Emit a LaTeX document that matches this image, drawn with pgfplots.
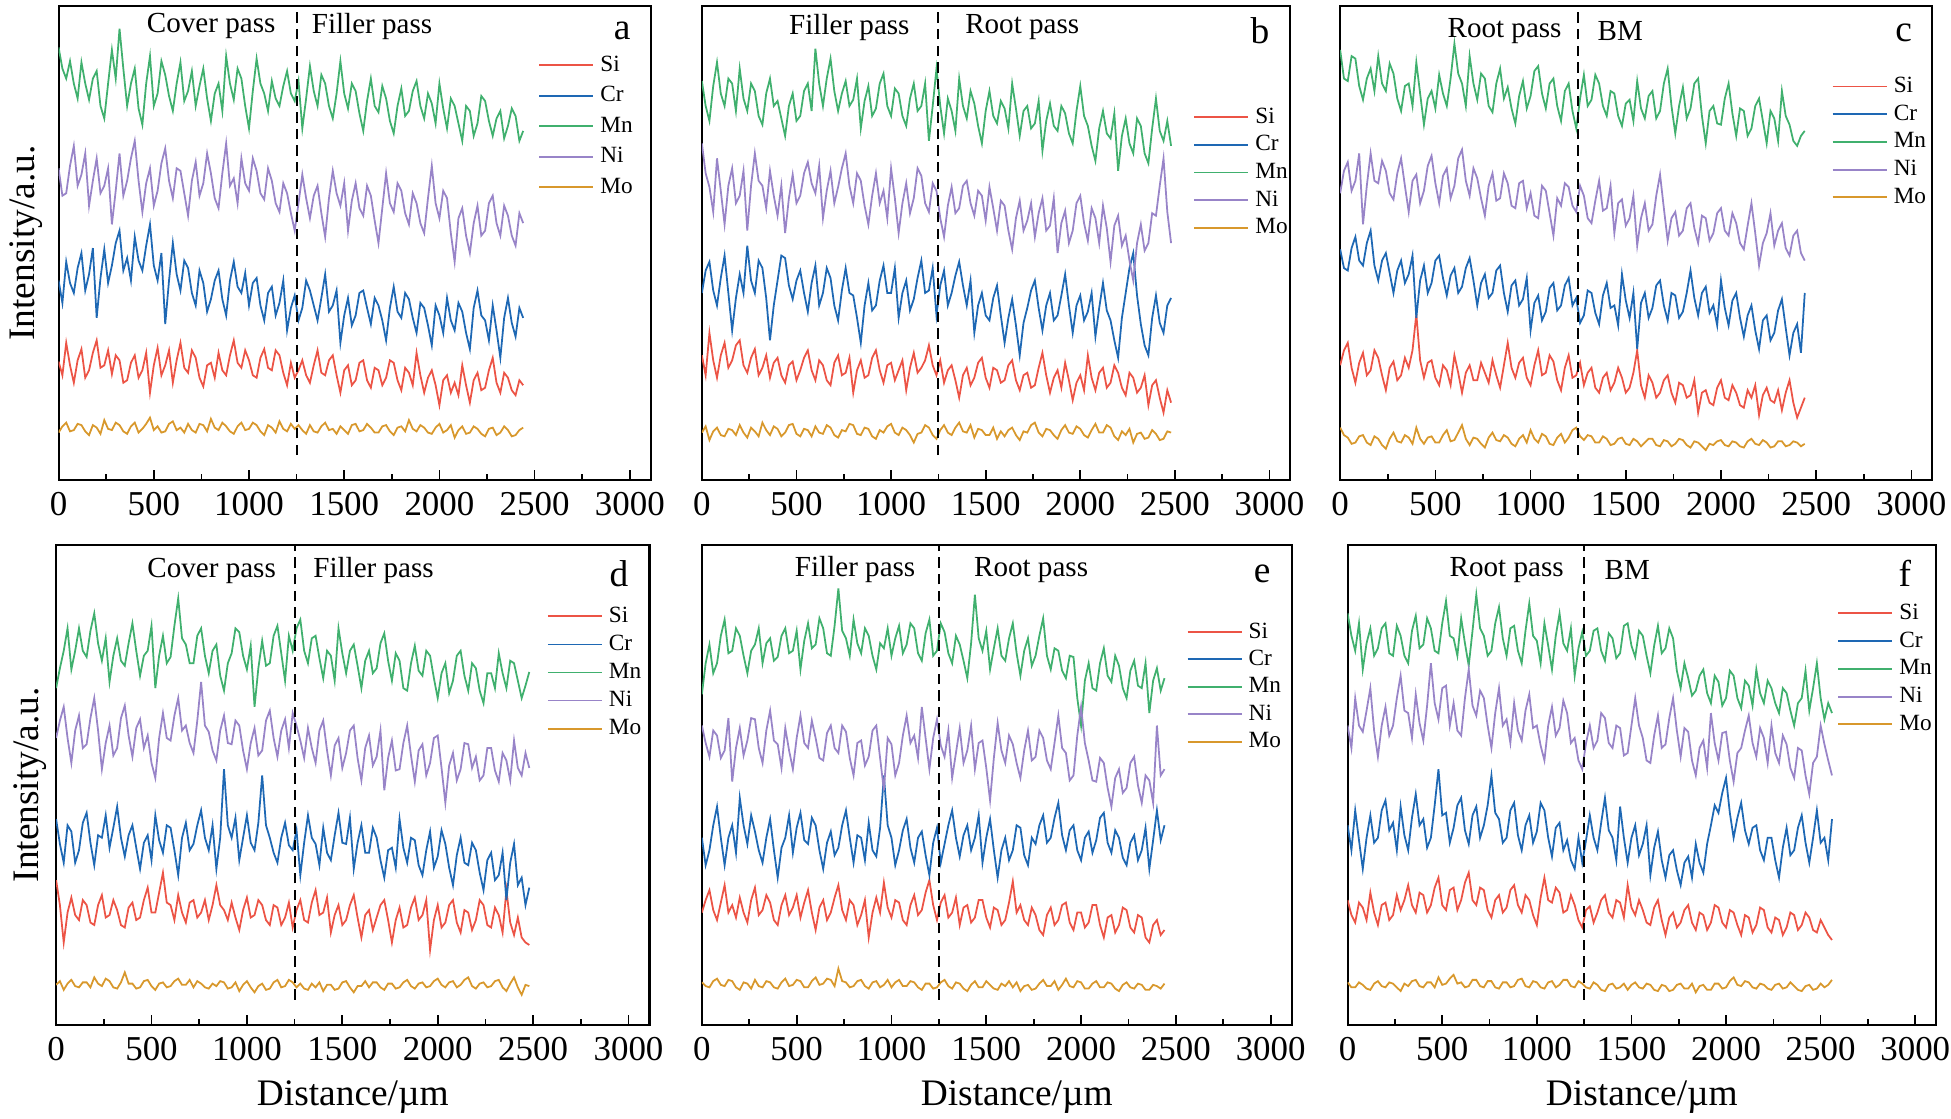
\documentclass[border=0pt]{standalone}
\usepackage{fontspec}
\setmainfont{Liberation Serif}
\usepackage{pgfplots}
\usepackage{pgfplotstable}
\pgfplotsset{compat=1.18}

\definecolor{cSi}{RGB}{236,84,70}
\definecolor{cCr}{RGB}{30,104,180}
\definecolor{cMn}{RGB}{64,176,110}
\definecolor{cNi}{RGB}{152,132,200}
\definecolor{cMo}{RGB}{216,152,44}

\pgfplotstableread{
x si cr mn ni mo
0 95 160 347 250 38
20 84 142 330 228 43
40 110 175 322 230 46
60 92 158 336 252 39
80 78 150 318 268 40
100 96 170 306 236 45
120 105 182 335 245 44
140 82 152 318 262 39
160 88 165 305 220 36
180 102 186 322 240 44
200 112 130 328 258 42
220 90 162 300 230 37
240 92 185 290 236 48
260 104 158 318 250 41
280 85 172 345 205 40
300 100 190 322 232 46
320 96 200 362 262 44
340 78 168 330 228 39
360 80 178 300 240 37
380 94 160 318 258 43
400 100 195 330 272 46
420 82 176 298 240 38
440 88 168 285 215 41
460 102 188 318 238 45
480 70 205 340 250 50
500 92 172 300 220 40
520 106 160 310 232 43
540 84 182 336 254 38
560 92 125 325 266 39
580 104 160 308 240 45
600 78 190 296 226 47
620 96 165 318 250 40
640 110 152 335 248 42
660 90 176 304 230 38
680 86 170 312 212 45
700 104 150 328 240 40
720 98 140 300 255 38
740 82 168 316 228 45
760 75 158 330 238 44
780 92 135 306 262 39
800 94 145 288 246 49
820 82 160 310 226 42
840 102 168 318 218 40
860 88 145 296 246 46
880 84 132 340 270 43
900 100 160 318 236 39
920 112 175 305 242 37
940 94 155 330 222 43
960 90 150 322 258 46
980 104 166 300 238 40
1000 96 140 282 232 41
1020 84 158 312 258 46
1040 82 162 338 248 44
1060 98 140 318 230 39
1080 105 128 310 225 36
1100 90 150 296 250 44
1120 88 155 320 240 42
1140 104 132 306 222 38
1160 100 142 300 215 47
1180 86 160 316 238 41
1200 76 120 328 230 39
1220 94 138 310 214 45
1240 82 148 304 200 41
1260 88 128 320 222 44
1280 96 138 282 245 40
1300 84 160 306 226 37
1320 78 152 332 210 44
1340 92 140 312 228 39
1360 104 128 300 236 38
1380 86 146 325 214 43
1400 84 165 318 195 46
1420 96 135 300 226 40
1440 100 140 290 248 41
1460 84 152 310 230 37
1480 70 110 336 220 43
1500 88 132 310 238 40
1520 92 146 298 200 37
1540 76 124 318 224 44
1560 80 132 312 238 45
1580 94 150 294 218 39
1600 96 152 280 212 40
1620 80 138 304 236 45
1640 74 125 322 228 42
1660 90 146 300 208 38
1680 88 140 295 190 38
1700 76 128 316 218 43
1720 82 112 306 246 44
1740 96 138 288 222 39
1760 94 155 278 215 36
1780 80 135 300 238 42
1800 72 130 314 232 43
1820 90 150 292 214 39
1840 86 145 296 205 48
1860 76 130 312 230 41
1880 102 118 320 222 39
1900 84 142 300 206 44
1920 70 138 290 198 42
1940 82 124 310 226 38
1960 88 108 302 252 37
1980 76 140 286 222 42
2000 60 132 318 210 45
2020 80 118 298 232 38
2040 84 146 282 226 40
2060 70 128 306 198 44
2080 78 120 300 175 34
2100 68 142 286 210 40
2120 92 135 272 218 43
2140 76 118 300 196 37
2160 62 105 296 182 38
2180 80 138 276 206 43
2200 86 152 286 220 41
2220 72 132 308 196 37
2240 74 128 304 200 35
2260 88 112 288 222 41
2280 98 140 276 228 42
2300 78 120 290 206 36
2320 70 98 296 196 38
2340 86 130 274 220 43
2360 82 146 284 212 40
2380 72 126 298 196 35
2400 68 115 292 188 36
2420 80 138 272 214 40
2440 76 130 280 206 42
}\dataA

\pgfplotstableread{
x si cr mn ni mo
0 100 150 320 270 38
20 84 168 300 246 43
40 118 175 288 235 32
60 96 152 316 215 39
80 82 140 335 258 42
100 100 162 310 232 36
120 110 180 300 205 35
140 90 150 322 236 41
160 96 120 318 250 40
180 108 146 296 222 36
200 112 165 330 228 44
220 92 150 306 248 38
240 86 188 296 200 34
260 98 160 318 236 42
280 105 150 312 262 39
300 84 176 292 240 35
320 90 170 285 236 46
340 100 146 310 218 40
360 82 112 322 248 36
380 94 140 300 228 43
400 98 160 304 212 41
420 84 180 290 236 35
440 78 178 276 198 38
460 92 156 300 226 44
480 95 145 310 245 45
500 80 160 288 222 37
520 88 168 292 228 35
540 98 150 312 246 41
560 104 135 318 255 40
580 88 158 296 238 35
600 80 172 346 230 43
620 96 140 318 252 38
640 92 150 300 210 37
660 80 170 322 232 44
680 76 162 338 248 42
700 94 140 312 222 36
720 100 128 296 235 34
740 84 152 310 250 40
760 86 170 320 262 39
780 98 150 300 236 45
800 70 148 305 222 44
820 88 130 322 246 37
840 96 110 282 240 36
860 82 140 304 220 42
880 84 158 316 205 41
900 98 136 292 228 35
920 104 140 298 246 33
940 88 160 318 222 40
960 78 172 326 232 38
980 92 150 300 210 43
1000 94 150 292 250 45
1020 80 170 314 226 38
1040 88 130 310 198 36
1060 96 150 292 222 42
1080 72 160 284 238 40
1100 90 136 306 214 36
1120 102 145 318 226 30
1140 86 162 296 250 37
1160 90 176 300 244 38
1180 96 150 318 222 44
1200 108 152 272 215 42
1220 92 170 300 238 36
1240 84 132 330 232 33
1260 96 156 300 210 40
1280 78 168 278 195 44
1300 88 140 306 220 38
1320 92 150 296 235 36
1340 80 164 280 214 42
1360 66 175 322 218 46
1380 84 156 300 236 39
1400 90 140 290 240 38
1420 76 160 312 222 44
1440 82 118 302 212 34
1460 94 140 284 232 41
1480 98 150 270 228 40
1500 82 132 296 208 36
1520 74 128 312 235 36
1540 90 146 292 218 42
1560 88 156 286 200 33
1580 78 132 304 224 39
1600 80 110 298 220 35
1620 92 130 282 200 40
1640 96 145 318 185 42
1660 80 124 298 210 36
1680 72 100 276 224 32
1700 84 126 296 200 39
1720 86 138 300 208 38
1740 74 152 282 222 44
1760 76 160 286 195 46
1780 90 138 304 214 38
1800 102 120 264 226 35
1820 84 140 288 200 41
1840 70 150 302 204 40
1860 82 128 284 226 36
1880 88 132 280 182 33
1900 74 148 300 206 40
1920 94 165 294 216 44
1940 80 140 278 190 38
1960 64 118 270 200 37
1980 78 140 296 222 43
2000 84 148 316 228 41
2020 72 128 292 206 36
2040 100 135 284 192 34
2060 82 150 268 218 40
2080 72 115 256 210 45
2100 86 138 282 190 38
2120 90 158 296 220 38
2140 74 136 278 202 44
2160 78 128 274 175 42
2180 92 112 294 204 35
2200 86 98 248 212 32
2220 74 130 276 188 39
2240 68 150 290 196 36
2260 86 170 270 176 41
2280 82 182 262 160 30
2300 70 148 290 190 37
2320 74 125 284 205 38
2340 84 108 262 184 33
2360 60 100 254 190 34
2380 76 130 282 214 40
2400 80 148 306 212 37
2420 66 126 280 236 32
2440 54 118 272 258 33
2460 72 140 288 215 39
2480 62 146 268 190 38
}\dataB

\pgfplotstableread{
x si cr mn ni mo
0 92 185 345 230 42
20 104 170 322 248 36
40 110 168 320 255 34
60 90 186 340 232 29
80 78 195 338 240 30
100 94 176 316 262 35
120 102 172 305 205 36
140 84 190 322 236 30
160 88 200 330 262 28
180 104 172 312 240 35
200 98 160 340 238 33
220 84 176 318 256 28
240 72 182 312 248 25
260 90 166 334 230 33
280 95 150 326 225 38
300 80 168 306 246 31
320 84 176 296 258 30
340 98 158 316 236 36
360 90 165 318 215 34
380 104 180 300 240 29
400 133 130 335 245 42
420 96 160 310 222 33
440 82 172 285 232 29
460 94 150 306 252 34
480 96 158 312 260 35
500 82 176 298 238 30
520 76 180 325 222 30
540 92 162 310 244 36
560 88 148 300 250 40
580 76 164 322 226 31
600 100 170 350 236 32
620 86 150 326 258 38
640 70 155 318 265 44
660 86 170 300 240 33
680 92 178 340 228 28
700 80 160 318 250 34
720 80 140 305 242 33
740 94 158 326 226 29
760 86 165 322 212 26
780 78 146 300 236 34
800 96 150 295 246 38
820 84 168 318 224 32
840 74 172 330 226 31
860 92 150 306 246 36
880 110 135 315 238 34
900 90 156 298 220 29
920 82 160 286 218 27
940 94 140 308 238 33
960 98 145 320 240 36
980 82 162 298 218 30
1000 76 120 308 230 40
1020 92 142 328 212 33
1040 104 148 332 210 30
1060 84 128 310 236 37
1080 86 135 298 232 35
1100 100 154 318 214 29
1120 95 158 322 196 28
1140 80 136 300 226 34
1160 72 140 288 220 37
1180 90 156 312 238 30
1200 100 162 318 235 34
1220 82 140 296 220 40
1240 84 146 282 215 42
1260 94 126 306 236 35
1280 76 132 325 228 32
1300 86 152 300 210 36
1320 90 150 305 206 35
1340 74 134 325 224 30
1360 70 125 318 240 30
1380 82 148 300 216 35
1400 86 158 292 218 33
1420 72 138 312 236 28
1440 78 140 310 198 29
1460 90 124 292 222 33
1480 82 165 284 225 34
1500 70 144 302 204 29
1520 74 130 305 210 28
1540 86 150 288 228 33
1560 104 105 320 188 31
1580 76 142 298 210 27
1600 66 150 290 222 30
1620 84 130 308 200 33
1640 78 138 312 205 33
1660 66 156 290 228 28
1680 70 160 296 245 27
1700 80 140 318 218 32
1720 84 128 330 192 31
1740 70 150 300 210 27
1760 62 148 278 215 29
1780 78 130 300 196 33
1800 76 135 315 200 32
1820 66 150 290 218 28
1840 68 168 298 222 26
1860 80 146 318 202 31
1880 54 132 322 190 30
1900 70 150 292 212 27
1920 72 155 270 210 24
1940 62 134 296 192 29
1960 60 140 300 198 28
1980 74 124 286 214 31
2000 80 160 285 218 32
2020 66 138 306 200 28
2040 64 124 318 196 27
2060 76 144 294 214 31
2080 70 150 276 206 30
2100 60 130 298 190 27
2120 58 115 296 185 26
2140 72 132 276 204 31
2160 66 140 282 222 33
2180 76 120 300 198 29
2200 52 105 306 172 28
2220 68 128 288 190 32
2240 74 132 270 198 30
2260 64 112 296 214 26
2280 62 118 290 188 27
2300 72 136 272 200 31
2320 56 145 312 206 31
2340 70 122 292 186 27
2360 80 100 285 180 28
2380 62 118 272 196 31
2400 50 125 268 200 30
2420 58 102 276 182 27
2440 66 150 280 176 29
}\dataC

\pgfplotstableread{
x si cr mn ni mo
0 116 165 270 230 32
20 96 145 286 244 35
40 66 130 300 255 28
60 90 160 318 230 33
80 102 155 285 210 36
100 88 130 300 236 31
120 84 140 318 248 30
140 100 162 300 222 34
160 96 170 295 225 34
180 82 146 316 246 30
200 80 128 330 262 38
220 96 152 306 236 33
240 104 150 292 205 31
260 86 168 310 226 37
280 88 142 275 240 35
300 100 158 296 216 30
320 92 175 310 222 29
340 80 150 292 246 34
360 78 135 288 256 42
380 94 152 306 232 33
400 98 160 322 215 33
420 84 142 300 238 29
440 86 125 280 245 30
460 100 146 296 222 35
480 110 152 300 232 36
500 90 132 320 210 31
520 90 168 270 198 28
540 106 148 296 230 33
560 122 138 312 250 34
580 98 160 290 230 30
600 96 158 295 228 31
620 84 140 320 248 35
640 104 120 342 262 37
660 90 150 310 236 32
680 82 162 305 240 32
700 98 140 290 226 36
720 100 145 290 218 30
740 86 160 312 244 35
760 90 172 318 275 33
780 100 150 296 240 30
800 84 140 282 235 29
820 96 160 300 220 33
840 112 125 305 212 31
860 96 150 280 236 35
880 92 205 268 248 34
900 84 160 290 226 29
920 98 150 298 225 30
940 86 166 318 244 34
960 76 132 315 240 27
980 92 150 296 220 32
1000 102 168 285 205 35
1020 86 146 304 226 30
1040 88 140 255 238 26
1060 100 162 286 216 31
1080 96 200 308 220 33
1100 84 160 288 244 28
1120 80 150 290 252 29
1140 96 138 312 230 34
1160 94 130 320 215 36
1180 80 150 298 236 30
1200 86 162 276 245 31
1220 98 144 312 222 36
1240 78 140 300 250 34
1260 92 156 318 240 30
1280 100 120 325 228 33
1300 84 146 300 214 29
1320 82 168 290 238 28
1340 98 150 310 222 33
1360 108 145 312 210 30
1380 88 128 294 236 34
1400 90 158 278 244 27
1420 102 138 300 220 32
1440 74 132 296 200 32
1460 88 152 276 224 28
1480 96 170 318 230 29
1500 80 146 298 206 34
1520 84 145 282 218 35
1540 96 166 300 236 30
1560 104 125 305 240 26
1580 86 146 288 214 31
1600 70 160 270 196 31
1620 88 138 292 222 35
1640 92 138 300 232 30
1660 76 158 282 208 34
1680 86 150 286 215 34
1700 96 132 306 236 30
1720 100 118 314 188 28
1740 84 140 292 214 33
1760 66 142 276 228 33
1780 84 126 298 204 29
1800 94 165 292 205 30
1820 78 142 270 226 34
1840 80 130 268 240 36
1860 94 150 290 216 31
1880 102 148 304 195 29
1900 84 128 284 220 33
1920 88 120 280 225 34
1940 100 140 300 200 30
1960 60 155 296 210 31
1980 84 126 278 230 35
2000 96 135 262 232 37
2020 78 156 282 206 32
2040 82 145 290 178 30
2060 96 126 266 208 34
2080 100 112 276 218 35
2100 82 136 296 196 30
2120 74 150 300 205 32
2140 92 130 280 226 36
2160 90 128 268 225 38
2180 76 146 290 206 31
2200 84 140 286 215 29
2220 100 122 268 196 33
2240 96 108 258 200 34
2260 80 132 282 222 30
2280 78 138 282 222 31
2300 94 116 270 204 35
2320 88 120 298 195 36
2340 74 138 282 218 30
2360 108 100 270 212 27
2380 82 130 292 196 33
2400 72 145 290 228 38
2420 86 112 276 206 30
2440 70 118 262 200 24
2460 66 96 272 218 32
2480 64 110 283 206 31
}\dataD

\pgfplotstableread{
x si cr mn ni mo
0 90 150 265 240 34
20 100 128 290 226 31
40 108 140 305 215 30
60 92 160 282 236 35
80 84 175 290 232 37
100 98 150 312 214 32
120 112 128 325 220 31
140 90 150 298 246 36
160 96 160 300 195 35
180 86 138 318 222 30
200 102 182 312 238 28
220 90 160 296 216 34
240 82 145 282 228 33
260 100 168 300 246 29
280 110 155 305 245 36
300 88 140 318 222 31
320 92 130 290 210 30
340 104 150 306 236 35
360 98 165 310 252 34
380 84 140 292 228 30
400 80 118 295 225 29
420 96 142 312 206 34
440 104 150 318 238 37
460 88 168 298 220 31
480 94 138 300 205 32
500 104 158 316 230 36
520 86 170 285 248 35
540 98 148 308 226 30
560 108 145 322 222 30
580 90 166 302 244 35
600 76 160 305 230 38
620 94 140 326 214 32
640 100 125 318 212 33
660 84 146 298 234 37
680 90 155 296 240 36
700 102 136 320 222 31
720 112 142 350 218 45
740 92 160 316 240 35
760 84 172 310 235 34
780 100 150 296 214 30
800 96 130 325 200 31
820 80 152 306 226 35
840 88 150 298 228 36
860 100 132 318 208 31
880 70 162 312 215 29
900 90 140 296 236 34
920 102 135 285 240 35
940 90 158 306 214 30
960 114 200 302 188 32
980 94 160 318 230 36
1000 86 150 296 225 30
1020 100 128 310 200 34
1040 98 140 320 210 36
1060 84 156 298 232 31
1080 80 165 305 248 31
1100 96 142 322 226 35
1120 104 130 318 232 34
1140 88 150 298 214 30
1160 92 155 292 255 28
1180 106 136 314 230 33
1200 116 120 325 205 33
1220 96 146 296 230 29
1240 84 158 300 245 30
1260 98 130 322 224 34
1280 104 145 315 215 36
1300 86 160 298 236 31
1320 90 172 290 198 29
1340 102 150 312 218 34
1360 80 135 305 238 33
1380 94 152 292 210 29
1400 96 160 278 220 27
1420 82 140 306 240 32
1440 86 150 345 205 35
1460 100 168 310 226 30
1480 100 130 300 228 30
1500 86 150 316 206 35
1520 78 165 285 180 32
1540 94 140 302 214 29
1560 92 118 318 242 28
1580 80 140 296 220 33
1600 84 150 292 210 31
1620 98 132 310 232 35
1640 115 140 322 225 30
1660 90 160 298 210 34
1680 96 158 280 198 27
1700 84 136 300 220 31
1720 80 128 310 236 32
1740 94 150 288 212 28
1760 88 145 296 215 29
1780 76 160 312 236 33
1800 72 168 326 230 36
1820 88 146 296 212 31
1840 94 150 285 205 31
1860 80 166 302 226 35
1880 84 178 300 248 28
1900 96 152 284 222 32
1920 98 140 278 218 37
1940 82 156 296 196 31
1960 76 160 295 200 30
1980 90 140 262 232 35
2000 90 132 240 255 34
2020 78 150 276 226 29
2040 82 155 290 212 29
2060 96 138 270 196 33
2080 96 148 268 195 35
2100 80 166 290 214 30
2120 70 170 302 210 30
2140 86 146 280 190 34
2160 88 138 275 175 33
2180 74 156 296 198 29
2200 80 150 288 205 27
2220 94 134 270 186 32
2240 92 128 262 190 34
2260 78 146 284 210 30
2280 74 152 292 215 29
2300 88 132 272 192 33
2320 86 140 270 178 32
2340 70 158 290 200 28
2360 66 125 250 196 28
2380 80 148 276 178 32
2400 84 172 286 240 31
2420 72 148 268 200 29
2440 76 160 278 205 33
}\dataE

\pgfplotstableread{
x si cr mn ni mo
0 100 160 330 240 34
20 88 140 312 222 30
40 82 172 300 262 30
60 98 148 322 240 34
80 94 125 285 235 32
100 84 150 306 252 29
120 106 168 318 270 28
140 90 146 296 236 33
160 80 150 302 215 35
180 96 172 318 240 31
200 98 180 322 255 30
220 84 156 298 232 34
240 88 162 296 240 33
260 104 140 320 262 30
280 92 175 312 280 27
300 100 152 296 252 33
320 112 140 290 250 31
340 96 166 316 230 35
360 90 185 328 265 36
380 106 160 302 242 31
400 104 165 305 228 30
420 90 142 326 256 34
440 96 150 318 290 34
460 110 176 300 258 30
480 118 205 298 245 38
500 96 168 322 270 32
520 92 170 340 272 33
540 108 146 312 240 37
560 110 158 310 258 40
580 92 176 296 236 33
600 100 182 326 232 34
620 114 156 306 262 30
640 122 145 288 285 31
660 100 168 316 256 36
680 96 175 345 248 36
700 110 150 318 268 31
720 108 160 312 262 30
740 92 176 296 240 35
760 86 200 300 222 35
780 100 170 322 250 30
800 104 165 335 270 29
820 90 146 310 240 34
840 94 150 296 245 34
860 108 172 318 226 30
880 112 178 320 258 31
900 96 152 300 236 36
920 90 140 290 228 37
940 104 160 316 252 31
960 100 168 338 265 30
980 88 146 312 238 35
1000 80 155 308 240 34
1020 102 178 290 224 30
1040 118 172 322 212 29
1060 100 150 304 240 34
1080 98 135 285 255 35
1100 110 158 312 232 30
1120 106 162 330 238 32
1140 90 140 306 260 36
1160 92 148 300 250 36
1180 104 132 318 226 31
1200 96 125 280 230 30
1220 84 150 302 212 35
1240 78 130 315 205 33
1260 92 148 296 226 30
1280 95 168 300 240 29
1300 82 150 316 222 34
1320 90 140 318 228 32
1340 100 162 300 250 28
1360 104 182 292 246 27
1380 90 156 314 226 32
1400 86 150 310 222 33
1420 100 132 294 240 29
1440 98 175 298 238 30
1460 86 150 320 216 33
1480 112 130 322 218 28
1500 94 150 304 240 32
1520 88 160 295 262 34
1540 100 136 316 240 30
1560 92 145 312 230 29
1580 82 160 296 212 33
1600 80 120 282 210 32
1620 94 142 304 232 28
1640 100 155 320 248 27
1660 84 132 298 222 32
1680 72 118 302 225 31
1700 86 136 318 246 27
1720 90 140 310 262 28
1740 78 124 284 236 32
1760 82 112 270 215 33
1780 92 130 290 238 29
1800 96 135 278 235 29
1820 82 118 264 212 33
1840 76 145 268 200 26
1860 90 130 280 222 31
1880 88 122 285 228 32
1900 76 145 266 206 28
1920 82 160 258 250 28
1940 96 176 280 226 33
1960 94 170 275 212 33
1980 82 186 256 234 29
2000 78 198 262 235 30
2020 92 170 284 212 35
2040 90 150 280 195 38
2060 80 166 262 218 32
2080 72 178 254 222 31
2100 88 156 276 236 35
2120 86 145 272 248 34
2140 74 158 256 226 30
2160 80 160 285 215 29
2180 94 140 266 238 33
2200 92 132 258 230 32
2220 78 150 276 210 29
2240 74 150 270 240 28
2260 86 132 258 218 32
2280 84 118 250 210 33
2300 72 142 270 232 29
2320 78 158 266 225 30
2340 90 136 252 206 34
2360 88 140 240 198 31
2380 76 158 258 222 28
2400 80 168 262 220 27
2420 90 146 284 200 31
2440 86 130 252 185 32
2460 76 150 270 210 28
2480 74 172 290 215 29
2500 84 146 262 240 33
2520 78 150 245 225 30
2540 72 132 258 212 32
2560 68 165 250 200 36
}\dataF

\pgfplotsset{
  panel/.style={
    scale only axis,
    xmin=0, xmax=3110, ymin=0,
    xtick={0,500,1000,1500,2000,2500,3000},
    xticklabels={0,500,1000,1500,2000,2500,3000},
    minor xtick={250,750,1250,1750,2250,2750},
    ytick=\empty,
    tick align=inside, xtick pos=bottom,
    major tick length=4.8pt, minor tick length=3pt,
    tick style={black, line width=0.8pt},
    axis line style={line width=1pt},
    tick label style={font=\fontsize{16.8}{18}\selectfont},
    xticklabel style={yshift=-2.5pt},
    every axis plot/.append style={line width=0.85pt},
    legend style={draw=none, fill=none, font=\fontsize{11.2}{12}\selectfont,
      inner sep=0pt, outer sep=0pt, anchor=north west, row sep=0pt, column sep=3pt,
      nodes={inner sep=0pt}},
    legend cell align=left,
    legend image code/.code={\draw[##1, line width=0.9pt] (0pt,0pt) -- (26pt,0pt);},
  },
  ylab/.style={ylabel={Intensity/a.u.},
    every axis y label/.style={at={(axis description cs:0,0.5)}, xshift=-#1, rotate=90, anchor=center, font=\fontsize{18}{20}\selectfont}},
  xlab/.style={xlabel={Distance/µm},
    every axis x label/.style={at={(axis description cs:#1,0)}, yshift=-34.8pt, anchor=center, font=\fontsize{18}{20}\selectfont}},
}

\newcommand{\plotall}[1]{%
  \addplot[cSi] table[x=x,y=si]{#1};
  \addplot[cCr] table[x=x,y=cr]{#1};
  \addplot[cMn] table[x=x,y=mn]{#1};
  \addplot[cNi] table[x=x,y=ni]{#1};
  \addplot[cMo] table[x=x,y=mo]{#1};
  \legend{Si,Cr,Mn,Ni,Mo}
}
\newcommand{\divider}[1]{%
  \addplot[black, line width=0.9pt, dash pattern=on 5pt off 3pt, forget plot] coordinates {(1250,20) (1250,#1)};
}

\begin{document}
\begin{tikzpicture}
\useasboundingbox (0,0) rectangle (939pt,-538.4pt);

% (a)
\begin{axis}[panel, at={(28.2pt,-231pt)}, anchor=south west, width=285pt, height=228pt, ymax=380,
  legend style={at={(axis description cs:0.81,0.908)}, nodes={minimum height=14.7pt}}, ylab=15.6pt]
\plotall{\dataA}
\divider{380}
\node[anchor=east, inner sep=0pt, font=\fontsize{14}{16}\selectfont] at (axis cs:1141,364) {Cover pass};
\node[anchor=west, inner sep=0pt, font=\fontsize{14}{16}\selectfont] at (axis cs:1328,364) {Filler pass};
\node[inner sep=0pt, font=\fontsize{18}{20}\selectfont] at (axis cs:2960,360) {a};
\end{axis}

% (b)
\begin{axis}[panel, at={(337.8pt,-231pt)}, anchor=south west, width=283.2pt, height=228pt, ymax=380,
  legend style={at={(axis description cs:0.835,0.795)}, nodes={minimum height=13.3pt}}]
\plotall{\dataB}
\divider{380}
\node[anchor=east, inner sep=0pt, font=\fontsize{14}{16}\selectfont] at (axis cs:1100,363) {Filler pass};
\node[anchor=west, inner sep=0pt, font=\fontsize{14}{16}\selectfont] at (axis cs:1390,363) {Root pass};
\node[inner sep=0pt, font=\fontsize{18}{20}\selectfont] at (axis cs:2950,360) {b};
\end{axis}

% (c)
\begin{axis}[panel, at={(645pt,-231pt)}, anchor=south west, width=285pt, height=228pt, ymax=380,
  legend style={at={(axis description cs:0.83,0.86)}, nodes={minimum height=13.35pt}}]
\plotall{\dataC}
\divider{380}
\node[anchor=east, inner sep=0pt, font=\fontsize{14}{16}\selectfont] at (axis cs:1165,360) {Root pass};
\node[anchor=west, inner sep=0pt, font=\fontsize{14}{16}\selectfont] at (axis cs:1350,360) {BM};
\node[inner sep=0pt, font=\fontsize{18}{20}\selectfont] at (axis cs:2960,359) {c};
\end{axis}

% (d)
\begin{axis}[panel, at={(27pt,-493.2pt)}, anchor=south west, width=285.6pt, height=231pt, ymax=385,
  legend style={at={(axis description cs:0.827,0.88)}, nodes={minimum height=13.5pt}}, ylab=12.6pt, xlab=0.5]
\plotall{\dataD}
\divider{385}
\node[anchor=east, inner sep=0pt, font=\fontsize{14}{16}\selectfont] at (axis cs:1154,364) {Cover pass};
\node[anchor=west, inner sep=0pt, font=\fontsize{14}{16}\selectfont] at (axis cs:1346,364) {Filler pass};
\node[inner sep=0pt, font=\fontsize{18}{20}\selectfont] at (axis cs:2950,362) {d};
\end{axis}

% (e)
\begin{axis}[panel, at={(337.8pt,-493.2pt)}, anchor=south west, width=283.8pt, height=231pt, ymax=385,
  legend style={at={(axis description cs:0.822,0.847)}, nodes={minimum height=13.2pt}}, xlab=0.534]
\plotall{\dataE}
\divider{385}
\node[anchor=east, inner sep=0pt, font=\fontsize{14}{16}\selectfont] at (axis cs:1128,365) {Filler pass};
\node[anchor=west, inner sep=0pt, font=\fontsize{14}{16}\selectfont] at (axis cs:1434,365) {Root pass};
\node[inner sep=0pt, font=\fontsize{18}{20}\selectfont] at (axis cs:2955,362) {e};
\end{axis}

% (f)
\begin{axis}[panel, at={(648.6pt,-493.2pt)}, anchor=south west, width=283.2pt, height=231pt, ymax=385,
  legend style={at={(axis description cs:0.832,0.886)}, nodes={minimum height=13.35pt}}, xlab=0.5]
\plotall{\dataF}
\divider{385}
\node[anchor=east, inner sep=0pt, font=\fontsize{14}{16}\selectfont] at (axis cs:1144,365) {Root pass};
\node[anchor=west, inner sep=0pt, font=\fontsize{14}{16}\selectfont] at (axis cs:1356,365) {BM};
\node[inner sep=0pt, font=\fontsize{18}{20}\selectfont] at (axis cs:2945,362) {f};
\end{axis}
\end{tikzpicture}
\end{document}
